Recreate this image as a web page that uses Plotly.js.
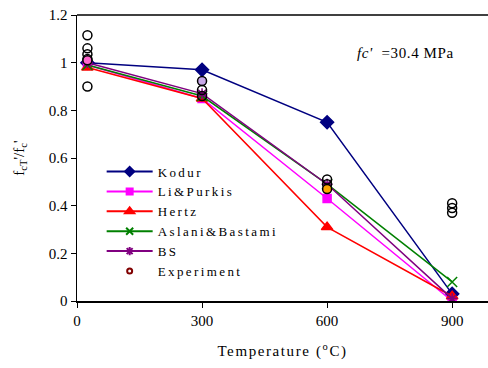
<!DOCTYPE html>
<html>
<head>
<meta charset="utf-8">
<script src="https://cdn.plot.ly/plotly-3.0.1.min.js"></script>
<style>
html,body{margin:0;padding:0;background:#fff;}
#chart{width:488px;height:368px;}
.legendtext{letter-spacing:2.4px;}
.xtitle{letter-spacing:1.6px;}
.annotation-text{letter-spacing:0.6px;}
</style>
</head>
<body>
<div id="chart"></div>
<script>
// Data
var temps = [25, 300, 600, 900];
var kodur = [1.0, 0.97, 0.75, 0.03];
var liPurkis = [0.99, 0.85, 0.43, 0.0];
var hertz = [0.98, 0.85, 0.31, 0.02];
var aslani = [0.99, 0.86, 0.49, 0.08];
var bs = [1.0, 0.87, 0.49, 0.01];
var expT = [25, 25, 25, 25, 25, 25, 300, 300, 300, 600, 600, 600, 900, 900, 900];
var expV = [1.115, 1.06, 1.035, 1.015, 1.01, 0.90, 0.923, 0.885, 0.86, 0.51, 0.49, 0.47, 0.41, 0.39, 0.37];
var expFill = ['rgba(0,0,0,0)','rgba(0,0,0,0)','rgba(0,0,0,0)','rgba(0,0,0,0)','#ff66cc','rgba(0,0,0,0)',
               '#c8a8e8','rgba(0,0,0,0)','rgba(0,0,0,0)',
               'rgba(0,0,0,0)','rgba(0,0,0,0)','#ffa500',
               'rgba(0,0,0,0)','rgba(0,0,0,0)','rgba(0,0,0,0)'];

var font = 'Liberation Serif, Times New Roman, serif';

var names = ['Kodur', 'Li&amp;Purkis', 'Hertz', 'Aslani&amp;Bastami', 'BS'];
var colors = ['#000080', '#ff00ff', '#ff0000', '#008000', '#800080'];
var symbols = ['diamond', 'square', 'triangle-up', 'x-thin', 'asterisk'];
var values = [kodur, liPurkis, hertz, aslani, bs];
var plotSizes = [10, 8, 10, 10, 9];
var legendSizes = [7, 6, 8, 7, 7];

var traces = [];
for (var i = 0; i < names.length; i++) {
  traces.push({x: temps, y: values[i], name: names[i], type: 'scatter', mode: 'lines+markers',
    showlegend: false,
    line: {color: colors[i], width: 1.5},
    marker: {color: colors[i], symbol: symbols[i], size: plotSizes[i], line: {color: colors[i], width: 1.5}}});
}
traces.push({x: expT, y: expV, name: 'Experiment', type: 'scatter', mode: 'markers', showlegend: false,
  marker: {symbol: 'circle', size: 9, color: expFill, line: {color: '#000000', width: 1.5}}});
// legend entries
for (var j = 0; j < names.length; j++) {
  traces.push({x: [null], y: [null], name: names[j], type: 'scatter', mode: 'lines+markers',
    line: {color: colors[j], width: 2},
    marker: {color: colors[j], symbol: symbols[j], size: legendSizes[j], line: {color: colors[j], width: 2}}});
}
traces.push({x: [null], y: [null], name: 'Experiment', type: 'scatter', mode: 'markers',
  marker: {symbol: 'circle-open', size: 5, color: '#800000', line: {color: '#800000', width: 2}}});

var layout = {
  width: 488, height: 368,
  margin: {l: 77, r: 0, t: 15, b: 67},
  paper_bgcolor: '#fff', plot_bgcolor: '#fff',
  font: {family: font, size: 14, color: '#000'},
  showlegend: true,
  legend: {x: 0.06, y: 0.505, xanchor: 'left', yanchor: 'top', bgcolor: 'rgba(0,0,0,0)',
    font: {family: font, size: 13}, tracegroupgap: 0, itemwidth: 46},
  xaxis: {range: [0, 986], tickvals: [0, 300, 600, 900], ticktext: ['0', '300', '600', '900'],
    showgrid: false, zeroline: false, showline: true, linecolor: '#000', linewidth: 1.5,
    ticks: 'outside', ticklen: 5, tickcolor: '#000',
    tickfont: {family: font, size: 15},
    title: {text: 'Temperature (<sup>o</sup>C)', font: {family: font, size: 15}, standoff: 18}},
  yaxis: {range: [0, 1.2], tickvals: [0, 0.2, 0.4, 0.6, 0.8, 1, 1.2],
    ticktext: ['0', '0.2', '0.4', '0.6', '0.8', '1', '1.2'],
    showgrid: false, zeroline: false, showline: true, linecolor: '#000', linewidth: 1.5,
    ticks: 'outside', ticklen: 5, tickcolor: '#000',
    tickfont: {family: font, size: 15},
    title: {text: "f<sub>cT</sub>'/f<sub>c</sub>'", font: {family: font, size: 15}, standoff: 20}},
  shapes: [{type: 'line', xref: 'paper', yref: 'paper', x0: 0, x1: 1, y0: 1, y1: 1,
    line: {color: '#000', width: 1.5}}],
  annotations: [{xref: 'paper', yref: 'paper', x: 0.676, y: 0.867, xanchor: 'left', yanchor: 'middle',
    showarrow: false, text: "<i>fc'</i>  =30.4 MPa", font: {family: font, size: 15}}]
};

Plotly.newPlot('chart', traces, layout, {displayModeBar: false, staticPlot: true});
</script>
</body>
</html>
